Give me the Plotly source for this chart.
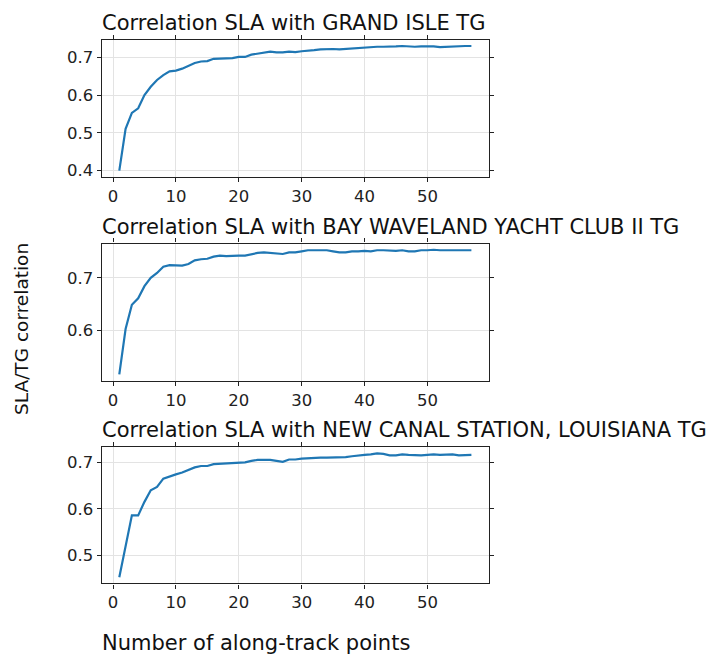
import plotly.graph_objects as go
from plotly.subplots import make_subplots

n_points = list(range(1, 58))

corr_grand_isle = [
    0.400, 0.511, 0.553, 0.565, 0.600, 0.622, 0.640, 0.653, 0.663, 0.665,
    0.670, 0.678, 0.685, 0.689, 0.690, 0.696, 0.697, 0.697, 0.698, 0.701,
    0.701, 0.707, 0.709, 0.713, 0.715, 0.713, 0.713, 0.715, 0.714, 0.716,
    0.717, 0.719, 0.721, 0.722, 0.722, 0.721, 0.722, 0.723, 0.726, 0.727,
    0.727, 0.728, 0.728, 0.728, 0.729, 0.730, 0.729, 0.728, 0.729, 0.729,
    0.729, 0.727, 0.728, 0.729, 0.729, 0.730, 0.730,
]

corr_bay_waveland = [
    0.517, 0.603, 0.649, 0.661, 0.684, 0.700, 0.709, 0.721, 0.724, 0.723,
    0.723, 0.726, 0.733, 0.735, 0.736, 0.740, 0.742, 0.741, 0.742, 0.742,
    0.742, 0.745, 0.747, 0.748, 0.747, 0.747, 0.745, 0.748, 0.748, 0.750,
    0.752, 0.752, 0.752, 0.752, 0.750, 0.748, 0.748, 0.750, 0.750, 0.751,
    0.750, 0.752, 0.752, 0.751, 0.751, 0.752, 0.750, 0.750, 0.752, 0.752,
    0.753, 0.752, 0.752, 0.752, 0.751, 0.751, 0.752,
]

corr_new_canal = [
    0.453, 0.522, 0.586, 0.586, 0.615, 0.640, 0.647, 0.665, 0.670, 0.674,
    0.678, 0.684, 0.689, 0.692, 0.692, 0.696, 0.697, 0.698, 0.699, 0.699,
    0.700, 0.703, 0.705, 0.705, 0.705, 0.703, 0.701, 0.706, 0.706, 0.708,
    0.709, 0.710, 0.710, 0.710, 0.710, 0.710, 0.711, 0.713, 0.715, 0.716,
    0.717, 0.719, 0.718, 0.715, 0.715, 0.717, 0.716, 0.715, 0.715, 0.716,
    0.717, 0.716, 0.716, 0.717, 0.715, 0.715, 0.716,
]

titles = [
    "Correlation SLA with GRAND ISLE TG",
    "Correlation SLA with BAY WAVELAND YACHT CLUB II TG",
    "Correlation SLA with NEW CANAL STATION, LOUISIANA TG",
]
series = [corr_grand_isle, corr_bay_waveland, corr_new_canal]
y_ticks = [[0.4, 0.5, 0.6, 0.7], [0.6, 0.7], [0.5, 0.6, 0.7]]
x_ticks = [0, 10, 20, 30, 40, 50]

W, H = 713, 659
fig = make_subplots(rows=3, cols=1)

# pixel frames (top, bottom) of each panel
frames = [(40, 178), (245, 383), (450, 587)]
x_left, x_right = 101.7, 489

font_family = "DejaVu Sans"
color = "#1f77b4"

for i, (vals, (top, bot)) in enumerate(zip(series, frames)):
    r = i + 1
    fig.add_trace(
        go.Scatter(x=n_points, y=vals, mode="lines",
                   line=dict(color=color, width=2.2), showlegend=False),
        row=r, col=1,
    )
    lo, hi = min(vals), max(vals)
    pad = (hi - lo) * 0.05
    axis_common = dict(
        showline=True, linecolor="#222222", linewidth=1.3, mirror="ticks",
        ticks="outside", ticklen=4, tickwidth=1.2, tickcolor="#222222",
        showgrid=True, gridcolor="#e3e3e3", gridwidth=1, zeroline=False,
        tickfont=dict(family=font_family, size=16.5, color="#222222"),
    )
    fig.update_xaxes(range=[1 - 56 * 0.05, 57 + 56 * 0.05], tickvals=x_ticks,
                     domain=[x_left / W, x_right / W], row=r, col=1, **axis_common)
    fig.update_yaxes(range=[lo - pad, hi + pad], tickvals=y_ticks[i],
                     ticktext=[f"{v:.1f}" for v in y_ticks[i]],
                     domain=[1 - bot / H, 1 - top / H], row=r, col=1, **axis_common)
    fig.add_annotation(text=titles[i], xref="paper", yref="paper",
                       x=(x_left - 2) / W, y=1 - (top - 3) / H,
                       xanchor="left", yanchor="bottom", showarrow=False,
                       font=dict(family=font_family, size=21, color="#111111"))

fig.add_annotation(text="SLA/TG correlation", xref="paper", yref="paper",
                   x=22 / W, y=1 - 331 / H, textangle=-90,
                   xanchor="center", yanchor="middle", showarrow=False,
                   font=dict(family=font_family, size=18.5, color="#111111"))
fig.add_annotation(text="Number of along-track points", xref="paper", yref="paper",
                   x=(x_left - 2) / W, y=1 - 647 / H,
                   xanchor="left", yanchor="middle", showarrow=False,
                   font=dict(family=font_family, size=21, color="#111111"))

fig.update_layout(width=W, height=H, margin=dict(l=0, r=0, t=0, b=0),
                  paper_bgcolor="white", plot_bgcolor="white",
                  font=dict(family=font_family))

fig.write_html("out.html", config={"displayModeBar": False},
               post_script="document.body.style.margin='0';document.body.style.overflow='hidden';")
